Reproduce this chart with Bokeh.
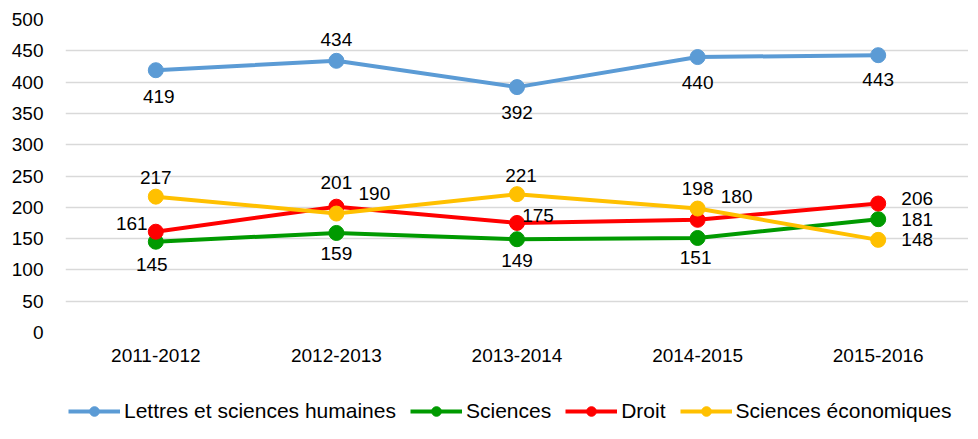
from bokeh.plotting import figure, ColumnDataSource
from bokeh.models import (FactorRange, Range1d, SingleIntervalTicker, Legend, LegendItem)
from bokeh.layouts import column
from bokeh.core.properties import value
from bokeh.embed import file_html
from bokeh.resources import INLINE

# ---- data ----
years = ["2011-2012", "2012-2013", "2013-2014", "2014-2015", "2015-2016"]
lettres = [419, 434, 392, 440, 443]
sciences = [145, 159, 149, 151, 181]
droit = [161, 201, 175, 180, 206]
eco = [217, 190, 221, 198, 148]

series_names = ["Lettres et sciences humaines", "Sciences", "Droit", "Sciences économiques"]

# ---- styling: colours and label offsets (screen px) ----
colors = ["#5B9BD5", "#009A00", "#FF0000", "#FFC000"]
label_dx = [
    [3, 0, 0, 0, 0],
    [-4, 0, 0, -2, 39],
    [-24, 0, 21, 39, 39],
    [0, 38, 4, 0, 39],
]
label_dy = [
    [26, -21, 25, 25, 24],
    [23, 21, 21, 20, 0],
    [-8, -24, -7, -23, -5],
    [-19, -20, -19, -20, 0],
]

FONT = "Liberation Sans"
W = 968

p = figure(
    width=W, height=378,
    x_range=FactorRange(*years, range_padding=0),
    y_range=Range1d(0, 500),
    output_backend="svg", toolbar_location=None,
    min_border_left=65, min_border_right=0, min_border_top=19, min_border_bottom=46,
)
p.outline_line_color = None
p.xgrid.grid_line_color = None
p.ygrid.grid_line_color = "#D9D9D9"
p.ygrid.grid_line_width = 1.5
p.yaxis.ticker = SingleIntervalTicker(interval=50)

for ax in (p.xaxis, p.yaxis):
    ax.axis_line_color = None
    ax.major_tick_line_color = None
    ax.minor_tick_line_color = None
    ax.major_label_text_font = FONT
    ax.major_label_text_font_size = "19px"
    ax.major_label_text_color = "#000000"
p.yaxis.major_label_standoff = 16
p.xaxis.major_label_standoff = 10

all_values = [lettres, sciences, droit, eco]
for vals, col in zip(all_values, colors):
    src = ColumnDataSource(dict(x=years, y=vals))
    p.line("x", "y", source=src, line_color=col, line_width=4)
    p.scatter("x", "y", source=src, size=15, fill_color=col, line_color=col)

for vals, dxs, dys in zip(all_values, label_dx, label_dy):
    src = ColumnDataSource(dict(x=years, y=vals, t=[str(v) for v in vals], dx=dxs, dy=dys))
    p.text("x", "y", text="t", source=src, x_offset="dx", y_offset="dy",
           text_align="center", text_baseline="middle",
           text_font=value(FONT), text_font_size="19px", text_color="#000000")

# ---- legend strip: a separate figure whose series glyphs fall outside its
# visible y range, so only the legend swatches show ----
lp = figure(width=W, height=45, output_backend="svg", toolbar_location=None,
            x_axis_location=None, y_axis_location=None,
            x_range=FactorRange(*years, range_padding=0), y_range=Range1d(1000, 1001),
            min_border=0, min_border_left=0, min_border_right=0,
            min_border_top=0, min_border_bottom=0)
lp.outline_line_color = None
lp.xgrid.visible = False
lp.ygrid.visible = False
legend_items = []
for name, vals, col in zip(series_names, all_values, colors):
    src = ColumnDataSource(dict(x=years, y=vals))
    lr = lp.line("x", "y", source=src, line_color=col, line_width=4)
    sr = lp.scatter("x", "y", source=src, size=11, fill_color=col, line_color=col)
    legend_items.append(LegendItem(label=name, renderers=[lr, sr]))

legend = Legend(items=legend_items, orientation="horizontal", location=(3, 0),
                glyph_width=52, glyph_height=24, label_height=20, label_standoff=4,
                spacing=14, padding=0, margin=0,
                label_text_font=FONT, label_text_font_size="21px",
                label_text_color="#000000",
                border_line_color=None, background_fill_alpha=0)
lp.add_layout(legend, "center")

open("out.html", "w").write(file_html(column(p, lp, spacing=0), INLINE))
